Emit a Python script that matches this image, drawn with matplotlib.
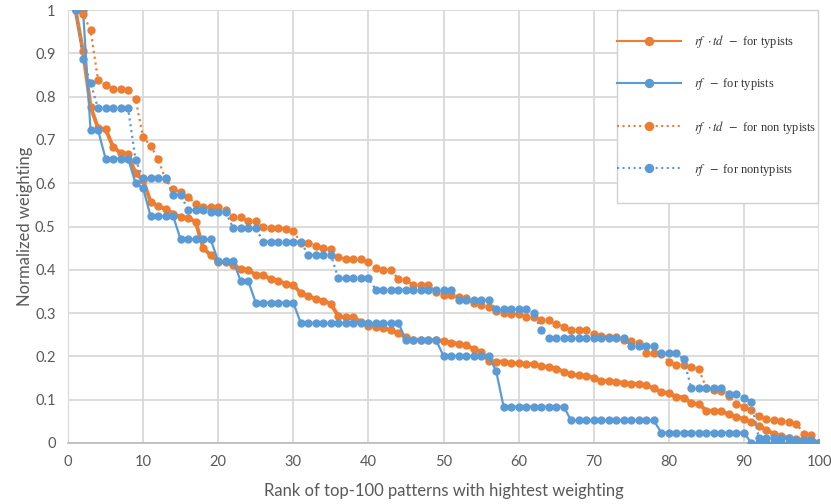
import matplotlib
matplotlib.use("Agg")
import matplotlib.pyplot as plt
from matplotlib.patches import Rectangle
import numpy as np

rank = list(range(1, 101))

rftd_typists = [
    1.000, 0.905, 0.777, 0.727, 0.725, 0.684, 0.670, 0.667, 0.623, 0.607,
    0.557, 0.547, 0.540, 0.530, 0.521, 0.520, 0.511, 0.450, 0.434, 0.419,
    0.417, 0.411, 0.402, 0.400, 0.388, 0.388, 0.378, 0.375, 0.367, 0.365,
    0.346, 0.340, 0.332, 0.329, 0.321, 0.293, 0.290, 0.290, 0.280, 0.271,
    0.269, 0.265, 0.261, 0.253, 0.244, 0.238, 0.238, 0.238, 0.237, 0.236,
    0.232, 0.229, 0.226, 0.217, 0.211, 0.190, 0.188, 0.188, 0.184, 0.184,
    0.183, 0.182, 0.178, 0.175, 0.172, 0.165, 0.159, 0.156, 0.155, 0.151,
    0.143, 0.143, 0.142, 0.138, 0.137, 0.136, 0.133, 0.126, 0.118, 0.115,
    0.107, 0.105, 0.092, 0.090, 0.075, 0.074, 0.073, 0.066, 0.059, 0.056,
    0.048, 0.040, 0.030, 0.021, 0.016, 0.011, 0.009, 0.008, 0.007, 0.000,
]

rf_typists = [
    1.000, 1.000, 0.723, 0.723, 0.657, 0.657, 0.657, 0.657, 0.600, 0.588,
    0.524, 0.524, 0.524, 0.524, 0.470, 0.470, 0.470, 0.470, 0.470, 0.420,
    0.420, 0.420, 0.374, 0.374, 0.324, 0.324, 0.324, 0.324, 0.324, 0.324,
    0.277, 0.277, 0.277, 0.277, 0.277, 0.277, 0.277, 0.277, 0.277, 0.277,
    0.277, 0.277, 0.277, 0.277, 0.238, 0.238, 0.238, 0.238, 0.238, 0.201,
    0.201, 0.201, 0.201, 0.201, 0.201, 0.201, 0.167, 0.084, 0.084, 0.084,
    0.084, 0.084, 0.084, 0.084, 0.084, 0.084, 0.052, 0.052, 0.052, 0.052,
    0.052, 0.052, 0.052, 0.052, 0.052, 0.052, 0.052, 0.052, 0.024, 0.024,
    0.024, 0.024, 0.024, 0.024, 0.024, 0.024, 0.024, 0.024, 0.024, 0.024,
    0.000, 0.000, 0.000, 0.000, 0.000, 0.000, 0.000, 0.000, 0.000, 0.000,
]

rftd_nontypists = [
    1.000, 0.990, 0.954, 0.838, 0.827, 0.817, 0.817, 0.815, 0.794, 0.706,
    0.687, 0.655, 0.609, 0.586, 0.580, 0.569, 0.552, 0.546, 0.544, 0.544,
    0.538, 0.521, 0.521, 0.513, 0.513, 0.498, 0.496, 0.496, 0.495, 0.490,
    0.463, 0.463, 0.455, 0.450, 0.448, 0.429, 0.425, 0.425, 0.425, 0.419,
    0.405, 0.400, 0.399, 0.379, 0.377, 0.365, 0.365, 0.365, 0.349, 0.342,
    0.342, 0.338, 0.334, 0.323, 0.319, 0.315, 0.305, 0.301, 0.298, 0.298,
    0.290, 0.290, 0.284, 0.284, 0.275, 0.269, 0.261, 0.261, 0.261, 0.252,
    0.248, 0.245, 0.245, 0.239, 0.235, 0.230, 0.207, 0.207, 0.206, 0.188,
    0.180, 0.179, 0.176, 0.170, 0.127, 0.122, 0.120, 0.109, 0.091, 0.084,
    0.076, 0.062, 0.055, 0.054, 0.050, 0.049, 0.045, 0.020, 0.019, 0.000,
]

rf_nontypists = [
    1.000, 0.886, 0.832, 0.773, 0.773, 0.773, 0.773, 0.773, 0.654, 0.611,
    0.611, 0.611, 0.611, 0.573, 0.573, 0.538, 0.538, 0.538, 0.533, 0.533,
    0.533, 0.496, 0.496, 0.496, 0.496, 0.465, 0.465, 0.465, 0.465, 0.465,
    0.465, 0.434, 0.434, 0.434, 0.434, 0.380, 0.380, 0.380, 0.380, 0.380,
    0.354, 0.354, 0.354, 0.354, 0.354, 0.354, 0.354, 0.354, 0.354, 0.354,
    0.354, 0.330, 0.330, 0.330, 0.330, 0.330, 0.309, 0.309, 0.309, 0.309,
    0.309, 0.300, 0.261, 0.242, 0.242, 0.242, 0.242, 0.242, 0.242, 0.242,
    0.242, 0.242, 0.242, 0.242, 0.223, 0.223, 0.223, 0.223, 0.207, 0.207,
    0.207, 0.193, 0.126, 0.126, 0.126, 0.126, 0.126, 0.114, 0.114, 0.105,
    0.094, 0.011, 0.011, 0.011, 0.011, 0.011, 0.006, 0.006, 0.006, 0.000,
]

labels = [
    r"$rf\;\;{\cdot}\,td\;\;-$ for typists",
    r"$rf\;\;-$ for typists",
    r"$rf\;\;{\cdot}\,td\;\;-$ for non typists",
    r"$rf\;\;-$ for nontypists",
]

ORANGE = "#ED7D31"
BLUE = "#5B9BD5"
GRID = "#D9D9D9"
TXT = "#595959"

plt.rcParams["font.family"] = ["Lato", "DejaVu Sans"]
plt.rcParams["mathtext.fontset"] = "stix"

W, H = 831, 504
fig = plt.figure(figsize=(W / 100, H / 100), dpi=100)
ax = fig.add_axes([68 / W, 1 - 443 / H, (819 - 68) / W, (443 - 10) / H])

ax.plot(rank, rftd_typists, color=ORANGE, lw=2.8, marker="o", ms=5,
        label=labels[0], zorder=3)
ax.plot(rank, rf_typists, color=BLUE, lw=1.6, marker="o", ms=5,
        label=labels[1], zorder=3)
ax.plot(rank, rftd_nontypists, color=ORANGE, lw=1.6, ls=":", marker="o", ms=5,
        label=labels[2], zorder=3)
ax.plot(rank, rf_nontypists, color=BLUE, lw=1.6, ls=":", marker="o", ms=5,
        label=labels[3], zorder=3)

ax.set_xlim(0, 100)
ax.set_ylim(0, 1)
ax.set_xticks(np.arange(0, 101, 10))
ax.set_yticks(np.arange(0, 1.01, 0.1))
ax.set_yticklabels(["0", "0.1", "0.2", "0.3", "0.4", "0.5", "0.6", "0.7", "0.8", "0.9", "1"])
ax.grid(True, color=GRID, lw=1.3, zorder=0)
ax.set_axisbelow(True)
for s in ["top", "right"]:
    ax.spines[s].set_visible(False)
ax.spines["left"].set_color(GRID)
ax.spines["bottom"].set_color("#BFBFBF")
ax.spines["bottom"].set_linewidth(1.3)
ax.tick_params(length=0, labelsize=10.5, colors=TXT, pad=9)
ax.set_xlabel("Rank of top-100 patterns with hightest weighting", fontsize=12, color=TXT, labelpad=10)
ax.set_ylabel("Normalized weighting", fontsize=12, color=TXT, labelpad=1)

# legend box
fig.patches.append(Rectangle((617 / W, 1 - 203 / H), (818 - 617) / W, (203 - 10) / H,
                             transform=fig.transFigure, facecolor="white",
                             edgecolor="#D0D0D0", lw=1.0, zorder=5))

fs = 9.0
px = fs * 100 / 72
leg = fig.legend(loc="upper left", bbox_to_anchor=(617 / W, 1 - 33 / H),
                 frameon=False,
                 prop={"family": ["Liberation Serif", "DejaVu Serif"], "size": fs},
                 labelspacing=2.1, handlelength=64 / px,
                 handletextpad=13 / px, markerscale=1.15,
                 borderpad=0, borderaxespad=0)
leg.set_zorder(6)
for t in leg.get_texts():
    t.set_color("#333333")
for h in leg.get_lines():
    h.set_linewidth(1.5)

fig.savefig("out.png", dpi=100)
